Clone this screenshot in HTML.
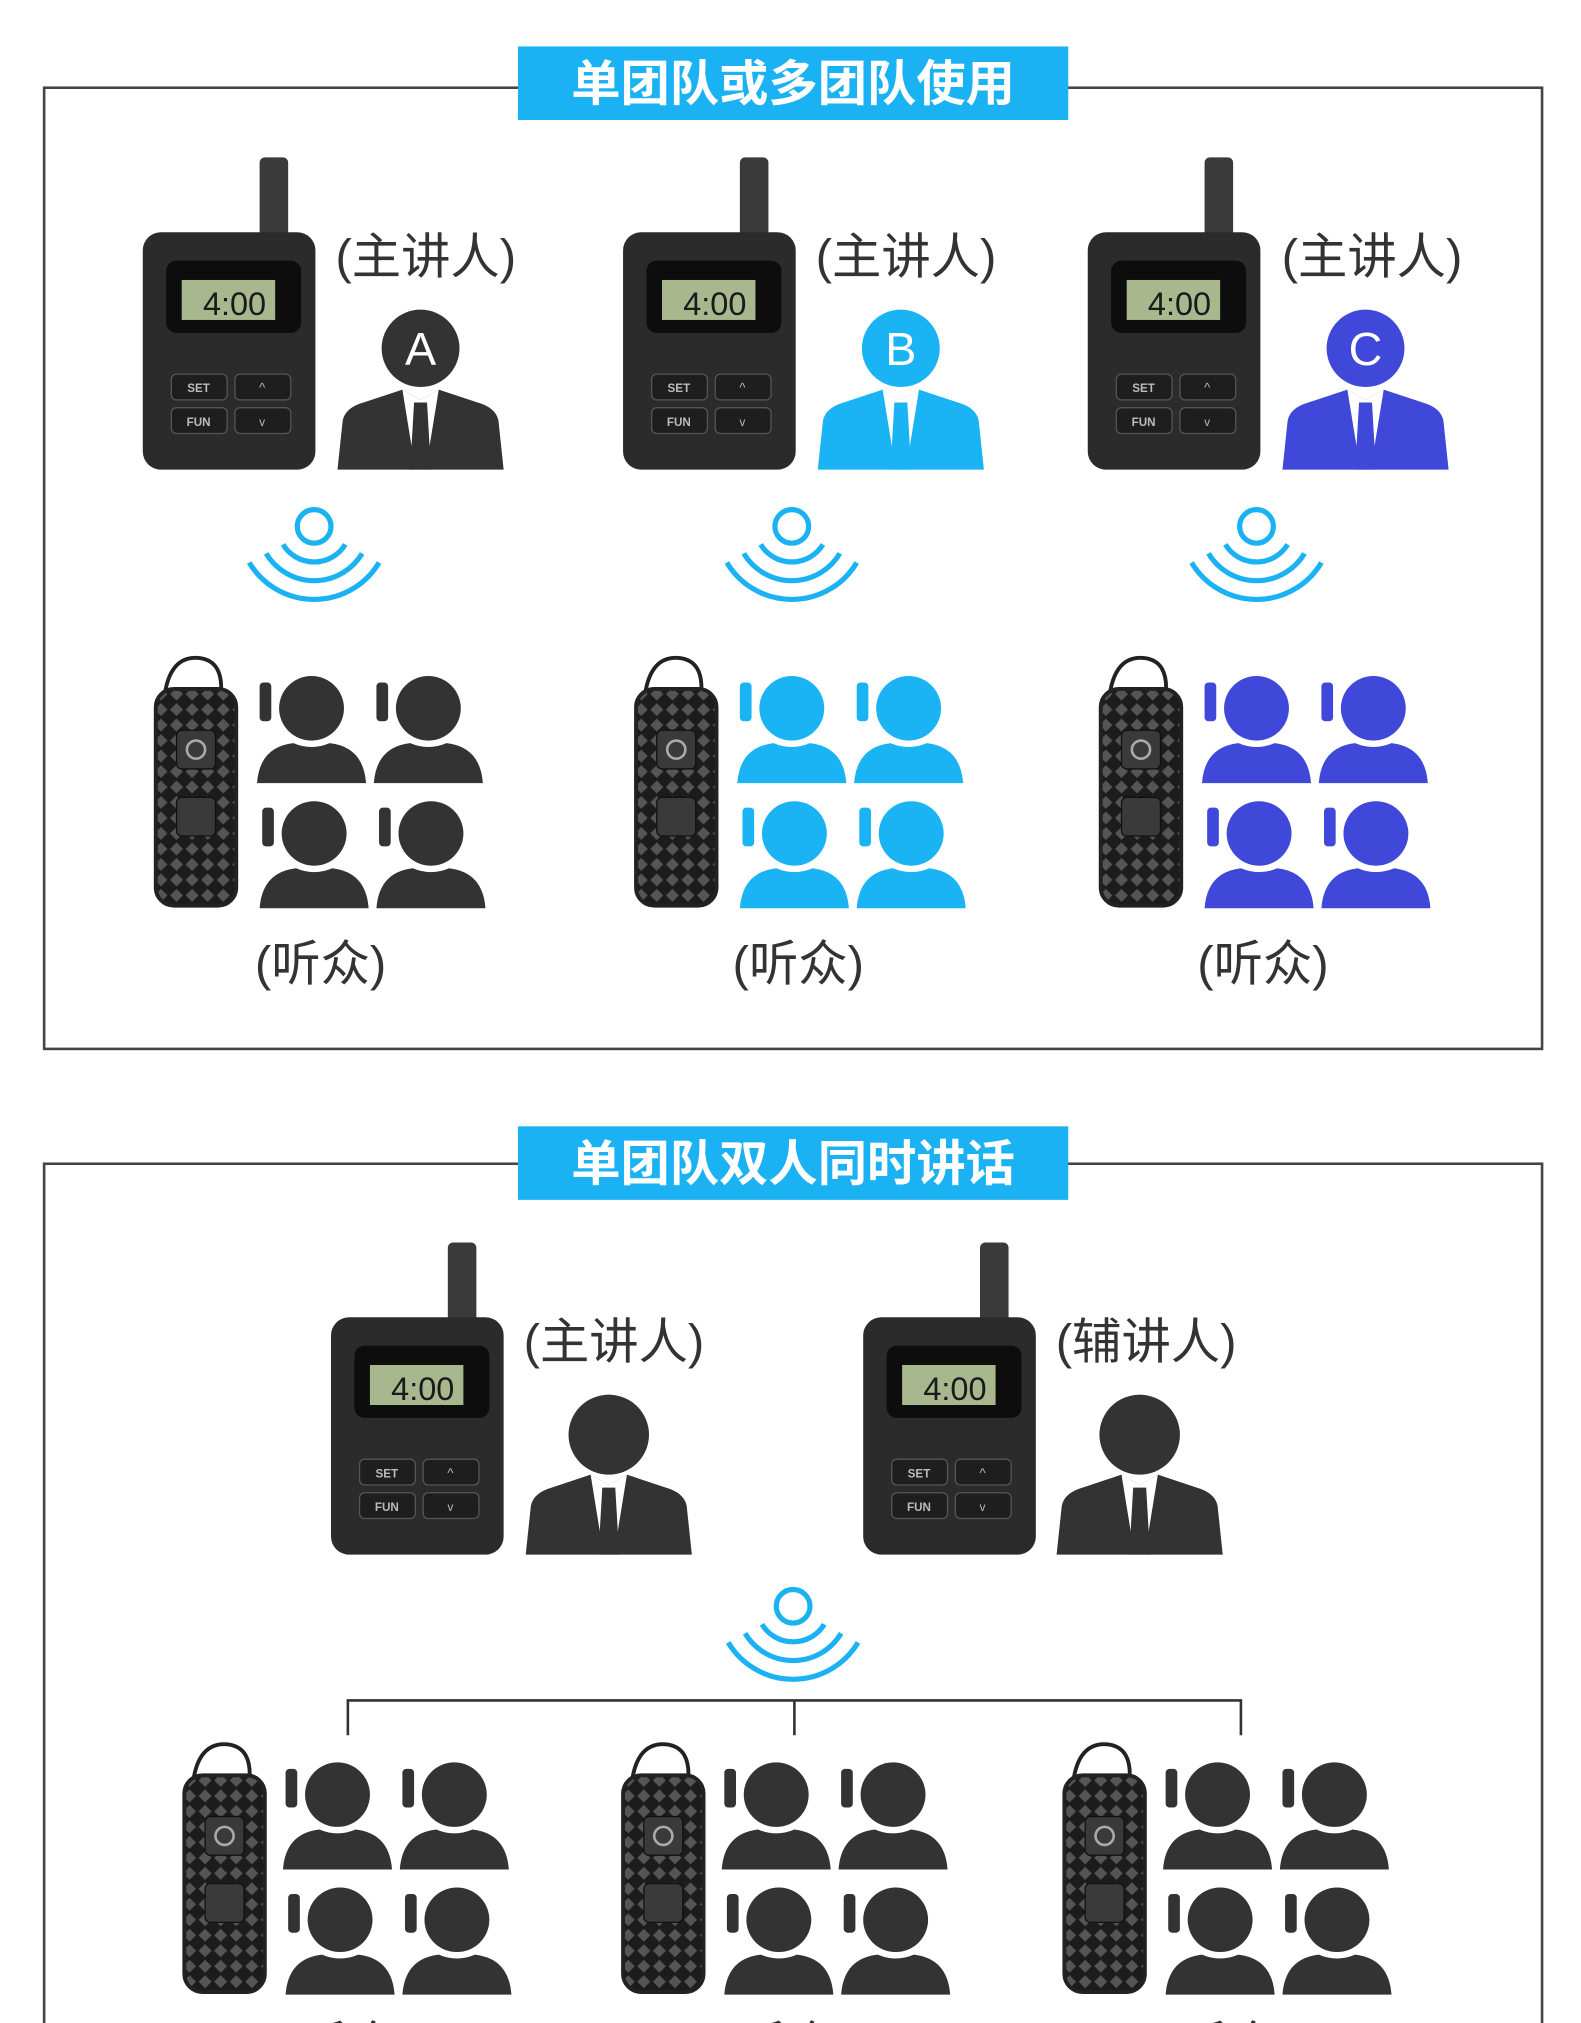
<!DOCTYPE html>
<html><head><meta charset="utf-8"><style>
html,body{margin:0;padding:0;background:#fff;}
svg{display:block;}
text{font-family:"Liberation Sans","Noto Sans CJK SC",sans-serif;}
</style></head><body>
<svg width="1581" height="2023" viewBox="0 0 1218 1568" preserveAspectRatio="none" xmlns="http://www.w3.org/2000/svg">
<defs>
<pattern id="dia" width="12" height="12" patternUnits="userSpaceOnUse">
<rect width="12" height="12" fill="#1c1c1c"/>
<path d="M6 1 L11 6 L6 11 L1 6 Z" fill="#555"/>
</pattern>
<g id="tx">
<rect x="90" y="-58" width="22" height="64" rx="4" fill="#3a3a3a"/>
<rect x="0" y="0" width="133" height="184" rx="14" fill="#2b2b2b"/>
<rect x="18" y="22" width="104" height="56" rx="8" fill="#0d0d0d"/>
<rect x="30" y="37" width="72" height="31" fill="#a8b78e"/>
<text x="95" y="64" font-size="25" text-anchor="end" fill="#1a1a1a" font-family="Liberation Mono,monospace">4:00</text>
<rect x="22" y="110" width="43" height="20" rx="4" fill="#1e1e1e" stroke="#555"/>
<rect x="71" y="110" width="43" height="20" rx="4" fill="#1e1e1e" stroke="#555"/>
<rect x="22" y="136" width="43" height="20" rx="4" fill="#1e1e1e" stroke="#555"/>
<rect x="71" y="136" width="43" height="20" rx="4" fill="#1e1e1e" stroke="#555"/>
<text x="43" y="124" font-size="9" fill="#bbb" text-anchor="middle" font-weight="bold">SET</text>
<text x="92" y="124" font-size="10" fill="#bbb" text-anchor="middle">^</text>
<text x="43" y="150" font-size="9" fill="#bbb" text-anchor="middle" font-weight="bold">FUN</text>
<text x="92" y="150" font-size="9" fill="#bbb" text-anchor="middle">v</text>
</g>
<g id="suit">
<path d="M-64,62 L-60,24 Q-58,14 -44,10 L-14,0 L0,8 L14,0 L44,10 Q58,14 60,24 L64,62 Z"/>
<path d="M-14,0 L0,8 L14,0 L4,62 L-4,62 Z" fill="#fff"/>
<path d="M-5,10 L5,10 L8,62 L-8,62 Z"/>
</g>
<g id="wave" fill="none" stroke="#1ab2f2" stroke-width="4">
<circle cx="0" cy="0" r="13"/>
<path d="M-24,14 A28,28 0 0 0 24,14"/>
<path d="M-37,21 A43,43 0 0 0 37,21"/>
<path d="M-50,28 A58,58 0 0 0 50,28"/>
</g>
<g id="ear">
<path d="M8,40 Q10,0 35,2 Q55,4 52,32" fill="none" stroke="#222" stroke-width="3"/>
<rect x="2" y="26" width="62" height="168" rx="14" fill="url(#dia)" stroke="#222" stroke-width="3"/>
<rect x="18" y="58" width="30" height="30" rx="4" fill="#3a3a3a" stroke="#111"/>
<circle cx="33" cy="73" r="7" fill="none" stroke="#aaa" stroke-width="2"/>
<rect x="18" y="110" width="30" height="30" rx="4" fill="#3a3a3a" stroke="#111"/>
</g>
<g id="p">
<circle cx="0" cy="0" r="25"/>
<path d="M-42,58 Q-40,30 -14,27 Q0,33 14,27 Q40,30 42,58 Z"/>
<rect x="-40" y="-20" width="9" height="30" rx="3"/>
</g>
<g id="crowd">
<use href="#p" x="240" y="0"/><use href="#p" x="330" y="0"/>
<use href="#p" x="242" y="97"/><use href="#p" x="332" y="97"/>
</g>
</defs>

<!-- Box 1 -->
<rect x="34" y="68" width="1154" height="745" fill="none" stroke="#444" stroke-width="2"/>
<rect x="399" y="36" width="424" height="57" fill="#1ab2f2"/>
<text x="611" y="78" font-size="38" font-weight="bold" fill="#fff" text-anchor="middle">单团队或多团队使用</text>

<g>
<use href="#tx" x="110" y="180"/>
<use href="#tx" x="480" y="180"/>
<use href="#tx" x="838" y="180"/>
<text x="328" y="212" font-size="38" fill="#333" text-anchor="middle">(主讲人)</text>
<text x="698" y="212" font-size="38" fill="#333" text-anchor="middle">(主讲人)</text>
<text x="1057" y="212" font-size="38" fill="#333" text-anchor="middle">(主讲人)</text>
<circle cx="324" cy="270" r="30" fill="#333"/><text x="324" y="283" font-size="36" fill="#fff" text-anchor="middle">A</text>
<use href="#suit" x="324" y="302" fill="#333"/>
<circle cx="694" cy="270" r="30" fill="#1ab4f5"/><text x="694" y="283" font-size="36" fill="#fff" text-anchor="middle">B</text>
<use href="#suit" x="694" y="302" fill="#1ab4f5"/>
<circle cx="1052" cy="270" r="30" fill="#3f48d8"/><text x="1052" y="283" font-size="36" fill="#fff" text-anchor="middle">C</text>
<use href="#suit" x="1052" y="302" fill="#3f48d8"/>
<use href="#wave" x="242" y="408"/>
<use href="#wave" x="610" y="408"/>
<use href="#wave" x="968" y="408"/>
<use href="#ear" x="118" y="508"/>
<use href="#ear" x="488" y="508"/>
<use href="#ear" x="846" y="508"/>
<use href="#crowd" x="0" y="549" fill="#333"/>
<use href="#crowd" x="370" y="549" fill="#1ab4f5"/>
<use href="#crowd" x="728" y="549" fill="#3f48d8"/>
<text x="247" y="760" font-size="38" fill="#333" text-anchor="middle">(听众)</text>
<text x="615" y="760" font-size="38" fill="#333" text-anchor="middle">(听众)</text>
<text x="973" y="760" font-size="38" fill="#333" text-anchor="middle">(听众)</text>
</g>

<!-- Box 2 -->
<rect x="34" y="902" width="1154" height="700" fill="none" stroke="#444" stroke-width="2"/>
<rect x="399" y="873" width="424" height="57" fill="#1ab2f2"/>
<text x="611" y="915" font-size="38" font-weight="bold" fill="#fff" text-anchor="middle">单团队双人同时讲话</text>

<use href="#tx" x="255" y="1021"/>
<use href="#tx" x="665" y="1021"/>
<text x="473" y="1053" font-size="38" fill="#333" text-anchor="middle">(主讲人)</text>
<text x="883" y="1053" font-size="38" fill="#333" text-anchor="middle">(辅讲人)</text>
<circle cx="469" cy="1112" r="31" fill="#333"/>
<use href="#suit" x="469" y="1143" fill="#333"/>
<circle cx="878" cy="1112" r="31" fill="#333"/>
<use href="#suit" x="878" y="1143" fill="#333"/>
<use href="#wave" x="611" y="1245"/>
<path d="M268,1345 V1318 H956 V1345 M612,1318 V1345" fill="none" stroke="#333" stroke-width="2"/>
<use href="#ear" x="140" y="1350"/>
<use href="#ear" x="478" y="1350"/>
<use href="#ear" x="818" y="1350"/>
<use href="#crowd" x="20" y="1391" fill="#333"/>
<use href="#crowd" x="358" y="1391" fill="#333"/>
<use href="#crowd" x="698" y="1391" fill="#333"/>
<text x="268" y="1598" font-size="38" fill="#333" text-anchor="middle">(听众)</text>
<text x="606" y="1598" font-size="38" fill="#333" text-anchor="middle">(听众)</text>
<text x="946" y="1598" font-size="38" fill="#333" text-anchor="middle">(听众)</text>
</svg>
</body></html>
